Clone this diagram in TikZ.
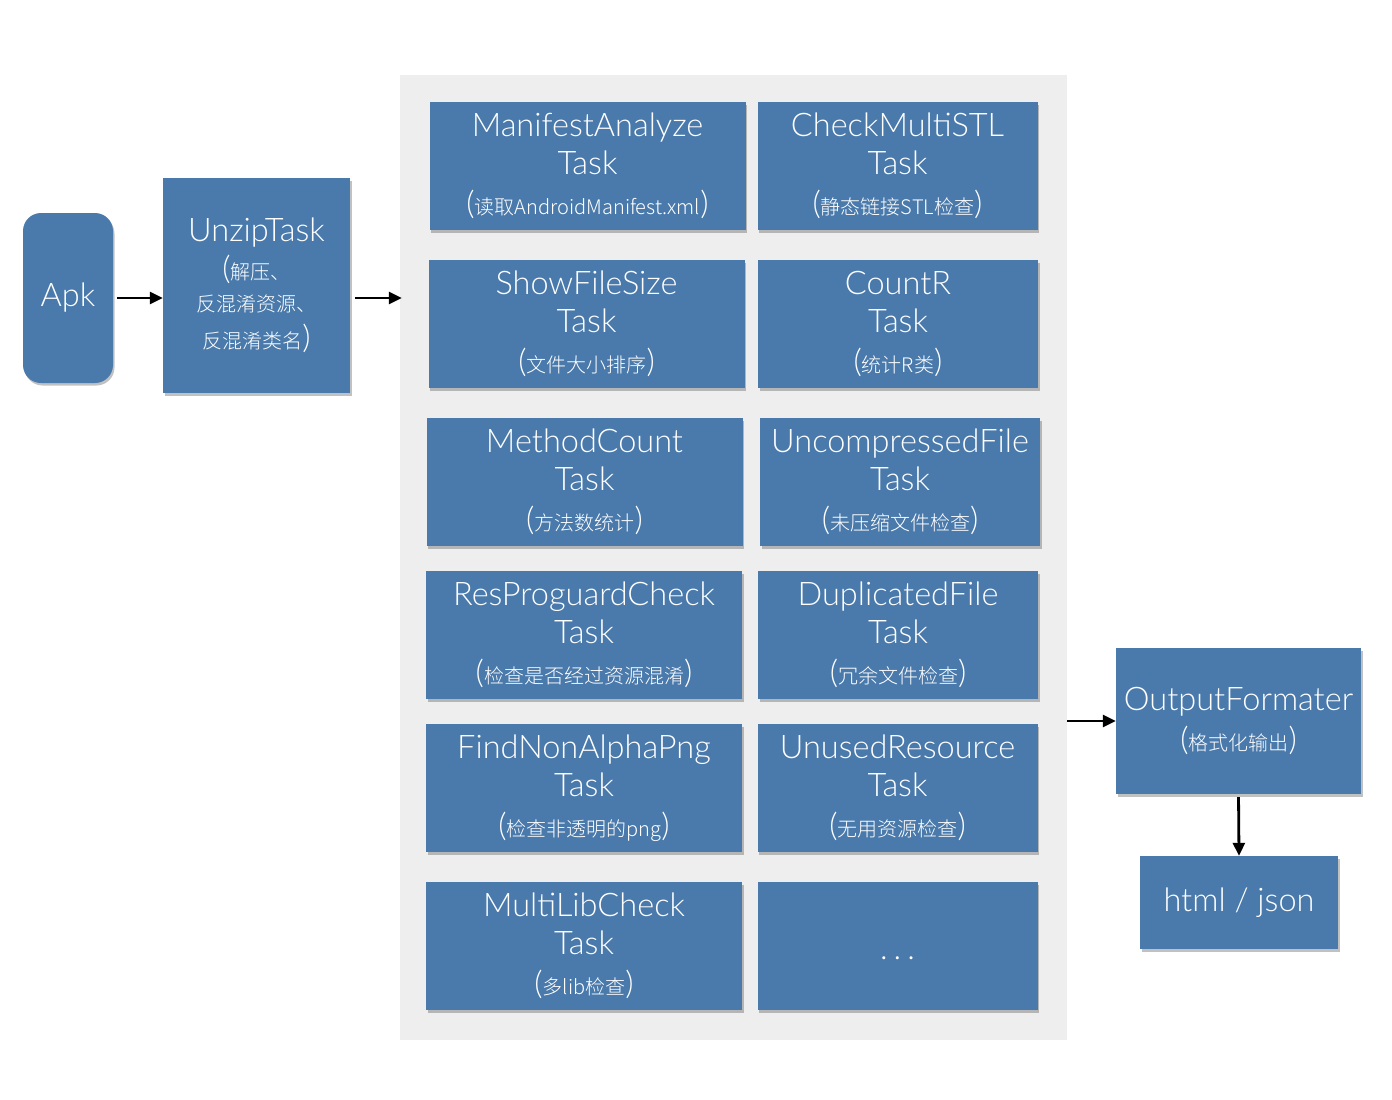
\documentclass[tikz,border=0pt]{standalone}
\usepackage{fontspec}
\setmainfont{Lato}[UprightFont=* Light]
\newfontfamily\cjk{Noto Sans CJK SC}[UprightFont=* Light]
\usetikzlibrary{arrows.meta,shadows}
\definecolor{taskblue}{HTML}{4A7AAB}
\definecolor{panelgrey}{HTML}{EEEEEE}
% a Chinese remark set between tall brackets
\newcommand{\bopen}{{\fontsize{32}{32}\selectfont(}}
\newcommand{\bclose}{{\fontsize{32}{32}\selectfont)}}
\newcommand{\zh}[1]{{\cjk\fontsize{20}{20}\selectfont #1}}
\newcommand{\remark}[1]{\bopen\zh{#1}\bclose}
\begin{document}
\begin{tikzpicture}[x=1pt,y=-1pt,
  box/.style={fill=taskblue, text=white, align=center, inner sep=0pt,
    drop shadow={shadow xshift=1.5pt, shadow yshift=-2.5pt, opacity=0.3, fill=black!80},
    font=\fontsize{32.5}{38}\selectfont},
  task/.style={box, minimum height=128pt},
  tl/.style={task, minimum width=316pt},
  tr/.style={task, minimum width=280pt},
  link/.style={-{Triangle[length=13pt,width=12pt]}, line width=2.8pt, black}]
\useasboundingbox[fill=white] (0,0) rectangle (1392,1100);

% grey panel holding the analysis tasks
\node[fill=panelgrey, minimum width=667pt, minimum height=965pt, inner sep=0pt] (panel) at (733.5,557.5) {};

% input side
\node[box, rounded corners=18pt, minimum width=90pt, minimum height=170pt] (apk) at (68,298) {Apk};
\node[box, minimum width=187pt, minimum height=215pt] (unzip) at (256.5,285.5)
  {UnzipTask\\\bopen\zh{解压、}\\[-6pt]\zh{反混淆资源、}\\[-1pt]\zh{反混淆类名}\bclose};

% task grid
\node[tl] (manifest) at (587.5,166) {ManifestAnalyze\\Task\\[2pt]\remark{读取AndroidManifest.xml}};
\node[tr] (stl)      at (897.5,166) {CheckMultiSTL\\Task\\[2pt]\remark{静态链接STL检查}};
\node[tl] (filesize) at (586.5,324) {ShowFileSize\\Task\\[2pt]\remark{文件大小排序}};
\node[tr] (countr)   at (898,324)   {CountR\\Task\\[2pt]\remark{统计R类}};
\node[tl] (method)   at (584.5,482) {MethodCount\\Task\\[2pt]\remark{方法数统计}};
\node[tr] (uncomp)   at (900,482)   {UncompressedFile\\Task\\[2pt]\remark{未压缩文件检查}};
\node[tl] (resguard) at (584,635)   {ResProguardCheck\\Task\\[2pt]\remark{检查是否经过资源混淆}};
\node[tr] (dup)      at (898,635)   {DuplicatedFile\\Task\\[2pt]\remark{冗余文件检查}};
\node[tl] (png)      at (584,788)   {FindNonAlphaPng\\Task\\[2pt]\remark{检查非透明的png}};
\node[tr] (unused)   at (897.5,788) {UnusedResource\\Task\\[2pt]\remark{无用资源检查}};
\node[tl] (multilib) at (584,946)   {MultiLibCheck\\Task\\[2pt]\remark{多lib检查}};
\node[tr] (more)     at (897.5,946) {\raisebox{-13pt}[0pt][0pt]{.\hspace{6pt}.\hspace{6pt}.}};

% output side
\node[box, minimum width=245pt, minimum height=146pt] (out) at (1238.5,721)
  {OutputFormater\\[2pt]\remark{格式化输出}};
\node[box, minimum width=198pt, minimum height=93pt] (html) at (1239,902.5) {html / json};

% connectors
\draw[link, shorten <=4pt] (apk.east) -- (apk.east -| unzip.west);
\draw[link, shorten <=5pt, shorten >=-2pt] (apk.east -| unzip.east) -- (apk.east -| panel.west);
\draw[link] (panel.east |- out.west) -- (out.west);
\draw[link, shorten <=3pt] (out.south) -- (html.north);
\end{tikzpicture}
\end{document}
